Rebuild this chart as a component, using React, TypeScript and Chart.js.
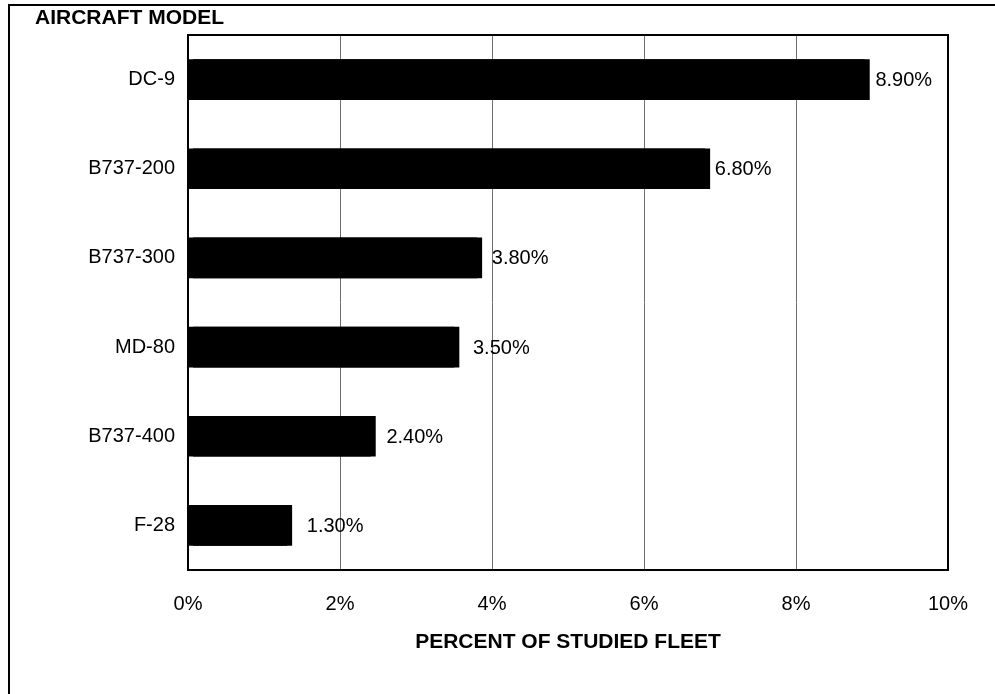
import React, { useEffect, useRef } from "react";
import { Chart, registerables } from "chart.js";

Chart.register(...registerables);

const categories = ["DC-9", "B737-200", "B737-300", "MD-80", "B737-400", "F-28"];
const values = [8.9, 6.8, 3.8, 3.5, 2.4, 1.3];
const valueLabels = ["8.90%", "6.80%", "3.80%", "3.50%", "2.40%", "1.30%"];
const labelOffsets = [11, 10, 15, 19, 16, 20];
const xTicks = [0, 2, 4, 6, 8, 10];
const yTitle = "AIRCRAFT MODEL";
const xTitle = "PERCENT OF STUDIED FLEET";

const FONT = "'Liberation Sans', Arial, sans-serif";

export default function App() {
  const ref = useRef<HTMLCanvasElement | null>(null);

  useEffect(() => {
    if (!ref.current) return;

    const shadowPlugin = {
      id: "barShadow",
      beforeDatasetsDraw(chart: any) {
        const ctx = chart.ctx;
        ctx.save();
        ctx.shadowColor = "#000000";
        ctx.shadowOffsetX = 5;
        ctx.shadowOffsetY = 0;
        ctx.shadowBlur = 0;
      },
      afterDatasetsDraw(chart: any) {
        const ctx = chart.ctx;
        ctx.restore();
        const meta = chart.getDatasetMeta(0);
        const xs = chart.scales.x;
        ctx.save();
        ctx.fillStyle = "#000";
        ctx.font = `20px ${FONT}`;
        ctx.textAlign = "left";
        ctx.textBaseline = "middle";
        meta.data.forEach((bar: any, i: number) => {
          const x = xs.getPixelForValue(values[i]) + labelOffsets[i];
          ctx.fillText(valueLabels[i], x, bar.y + 1);
        });
        ctx.restore();
      },
    };

    const framePlugin = {
      id: "frame",
      afterDraw(chart: any) {
        const ctx = chart.ctx;
        const a = chart.chartArea;
        ctx.save();
        ctx.strokeStyle = "#000";
        ctx.lineWidth = 2;
        ctx.strokeRect(a.left, a.top, a.right - a.left, a.bottom - a.top);
        ctx.fillStyle = "#000";
        ctx.font = `bold 21px ${FONT}`;
        ctx.textBaseline = "middle";
        ctx.textAlign = "left";
        ctx.fillText(yTitle, 35, 18);
        ctx.textAlign = "center";
        ctx.fillText(xTitle, (a.left + a.right) / 2, 642);
        ctx.restore();
      },
    };

    const chart = new Chart(ref.current, {
      type: "bar",
      data: {
        labels: categories,
        datasets: [
          {
            data: values,
            backgroundColor: "#000000",
            borderWidth: 0,
            barThickness: 40,
          },
        ],
      },
      options: {
        indexAxis: "y",
        animation: false,
        responsive: false,
        maintainAspectRatio: false,
        layout: { padding: { left: 0, right: 47, top: 35, bottom: 0 } },
        plugins: {
          legend: { display: false },
          tooltip: { enabled: false },
          title: { display: false },
        },
        scales: {
          x: {
            type: "linear",
            min: 0,
            max: 10,
            afterBuildTicks(scale: any) {
              scale.ticks = xTicks.map((v) => ({ value: v }));
            },
            afterFit(scale: any) {
              scale.height = 124;
            },
            grid: {
              display: true,
              color: "#6e6e6e",
              lineWidth: 1,
              drawTicks: false,
            },
            border: { display: false },
            ticks: {
              color: "#000",
              padding: 22,
              font: { family: FONT, size: 20 },
              callback: (v: any) => `${v}%`,
              maxRotation: 0,
            },
          },
          y: {
            type: "category",
            afterFit(scale: any) {
              scale.width = 188;
            },
            grid: { display: false, drawTicks: false },
            border: { display: false },
            ticks: {
              color: "#000",
              padding: 13,
              font: { family: FONT, size: 20 },
            },
          },
        },
      },
      plugins: [shadowPlugin, framePlugin],
    });

    return () => chart.destroy();
  }, []);

  return (
    <div style={{ position: "fixed", left: 0, top: 0, width: 995, height: 694, background: "#fff", overflow: "hidden" }}>
      <div
        style={{
          position: "absolute",
          left: 8,
          top: 4,
          width: 2000,
          height: 2000,
          borderLeft: "2px solid #000",
          borderTop: "2px solid #000",
        }}
      />
      <canvas ref={ref} width={995} height={694} style={{ position: "absolute", left: 0, top: 0 }} />
    </div>
  );
}
